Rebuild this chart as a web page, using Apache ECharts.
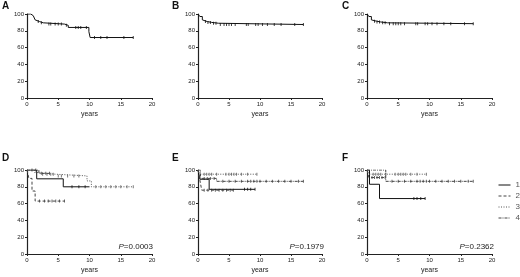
<!DOCTYPE html>
<html>
<head>
<meta charset="utf-8">
<script src="https://cdn.jsdelivr.net/npm/echarts@6/dist/echarts.min.js"></script>
<style>
  html, body { margin: 0; padding: 0; background: #fff; }
  #chart { width: 520px; height: 277px; }
</style>
</head>
<body>
<div id="chart"></div>
<script>
// ---- data (years, % survival) ----
const xTicks = [0, 5, 10, 15, 20];
const yTicks = [0, 20, 40, 60, 80, 100];

// panel A
const aTime = [0, 0.6, 1.0, 1.3, 1.6, 2.0, 2.6, 6.0, 6.6, 9.9, 10.1];
const aSurv = [100, 98, 96, 93, 91, 89.5, 88, 86.5, 84, 79, 72];
const aEnd = 17;
const aCens = [1.8, 2.3, 3.5, 3.8, 4.5, 5.0, 5.5, 6.3, 7.8, 8.2, 8.6, 9.5, 10.8, 11.8, 12.8, 15.5, 17];

// panel B
const bTime = [0, 0.3, 0.7, 1.0, 1.5, 2.2, 3.3];
const bSurv = [100, 97, 93, 91, 90, 89, 87.5];
const bEnd = 17;
const bCens = [1.2, 1.6, 2.0, 2.5, 2.9, 3.6, 4.2, 4.6, 5.0, 5.4, 6.0, 7.8, 8.1, 9.3, 9.7, 10.4, 11.2, 12.3, 13.4, 15.6, 17];

// panel C
const cTime = [0, 0.3, 0.7, 1.0, 1.5, 2.2, 3.3];
const cSurv = [100, 97, 93, 91.5, 90.5, 89.5, 88.5];
const cEnd = 17;
const cCens = [1.2, 1.6, 2.0, 2.5, 2.9, 3.6, 4.2, 4.6, 5.0, 5.4, 6.0, 7.8, 8.1, 9.3, 9.7, 10.4, 11.2, 12.3, 13.4, 15.6, 17];

// panel D, groups 1-4
const d1Time = [0, 1.55, 5.8], d1Surv = [100, 89.5, 80], d1End = 10, d1Cens = [7.2, 8.3, 9.3];
const d2Time = [0, 0.3, 0.8, 1.3], d2Surv = [100, 90, 75, 63], d2End = 6, d2Cens = [2.0, 2.8, 3.4, 4.0, 4.6, 5.2, 6.0];
const d3Time = [0, 1.2, 1.6, 4.5, 9.6, 10.3], d3Surv = [100, 97, 95, 93, 87, 80], d3End = 17;
const d3Cens = [2.5, 3.2, 3.8, 4.2, 5.0, 5.5, 6.5, 7.5, 8.3, 11.0, 11.8, 12.6, 13.4, 14.2, 15.0, 16.0, 17];
const d4Time = [0, 1.9], d4Surv = [100, 96], d4End = 3.6, d4Cens = [0.8, 1.4, 2.3, 3.0, 3.6];

// panel E
const e1Time = [0, 0.3, 1.8], e1Surv = [100, 89, 77], e1End = 9.2, e1Cens = [7.5, 8.0, 8.5, 9.2];
const e2Time = [0, 0.3, 0.6], e2Surv = [100, 88, 76], e2End = 5.7, e2Cens = [1.0, 1.6, 2.2, 2.8, 3.4, 4.0, 4.6, 5.2, 5.7];
const e3Time = [0, 0.3], e3Surv = [100, 95], e3End = 9.5, e3Cens = [1.0, 1.4, 1.8, 2.2, 3.0, 4.5, 5.0, 5.4, 5.8, 6.2, 7.0, 8.0, 9.5];
const e4Time = [0, 0.4, 3.0], e4Surv = [100, 90, 86.5], e4End = 17;
const e4Cens = [1.0, 1.5, 2.0, 2.6, 4.0, 5.0, 6.0, 7.0, 8.0, 8.5, 9.0, 9.5, 10.0, 11.0, 12.0, 13.0, 14.0, 15.0, 16.2, 17];

// panel F
const f1Time = [0, 0.4, 2.0], f1Surv = [100, 83, 66], f1End = 9.3, f1Cens = [7.5, 8.0, 8.6, 9.3];
const f2Time = [0, 0.3], f2Surv = [100, 91], f2End = 2.9, f2Cens = [0.8, 1.2, 1.6, 2.0, 2.4, 2.9];
const f3Time = [0, 0.3], f3Surv = [100, 95], f3End = 9.5, f3Cens = [1.0, 1.4, 1.8, 2.2, 3.0, 4.5, 5.0, 5.4, 5.8, 6.2, 7.0, 8.0, 9.5];
const f4Time = [0, 3.0], f4Surv = [100, 86.5], f4End = 17;
const f4Cens = [4.0, 5.0, 6.0, 7.0, 8.0, 8.5, 9.0, 9.5, 10.0, 11.0, 12.0, 13.0, 14.0, 15.0, 16.2, 17];

const pValues = ['0.0003', '0.1979', '0.2362'];

// ---- helpers ----
function kmLine(time, surv, end) {
  const pts = time.map((t, i) => [t, surv[i]]);
  pts.push([end, surv[surv.length - 1]]);
  return pts;
}
function censPts(time, surv, cens) {
  return cens.map(c => {
    let v = surv[0];
    for (let i = 0; i < time.length; i++) if (time[i] <= c) v = surv[i];
    return [c, v];
  });
}

const grids = [
  { left: 27, top: 14, width: 125, height: 84 },
  { left: 198, top: 14, width: 124, height: 84 },
  { left: 367, top: 14, width: 125, height: 84 },
  { left: 27, top: 170, width: 125, height: 84 },
  { left: 198, top: 170, width: 124, height: 84 },
  { left: 367, top: 170, width: 125, height: 84 }
];

const axisCommon = {
  axisLine: { lineStyle: { color: '#222', width: 1.2 } },
  axisTick: { length: 2, lineStyle: { color: '#222' } },
  splitLine: { show: false }
};
const xAxes = grids.map((g, i) => Object.assign({
  gridIndex: i, type: 'value', min: xTicks[0], max: xTicks[xTicks.length - 1], interval: 5,
  name: 'years', nameLocation: 'middle', nameGap: 13,
  nameTextStyle: { fontSize: 7, color: '#222', fontFamily: 'Liberation Sans' },
  axisLabel: { fontSize: 6, margin: 3, color: '#222', fontFamily: 'Liberation Sans' }
}, axisCommon));
const yAxes = grids.map((g, i) => Object.assign({
  gridIndex: i, type: 'value', min: yTicks[0], max: yTicks[yTicks.length - 1], interval: 20,
  axisLabel: { fontSize: 6, margin: 3, color: '#222', fontFamily: 'Liberation Sans' }
}, axisCommon));

const styles = {
  '1': { color: '#111', type: 'solid' },
  '2': { color: '#444', type: [3, 2] },
  '3': { color: '#555', type: [1, 1.5] },
  '4': { color: '#444', type: [3, 1, 1, 1] }
};

const series = [];
function addCurve(idx, name, time, surv, end, cens) {
  const st = styles[name] || styles['1'];
  series.push({
    name: name, type: 'line', step: 'end', xAxisIndex: idx, yAxisIndex: idx,
    symbol: 'none', showSymbol: false, silent: true, animation: false,
    lineStyle: { color: st.color, width: 1, type: st.type },
    itemStyle: { color: st.color },
    data: kmLine(time, surv, end)
  });
  series.push({
    name: name + 'c', type: 'scatter', xAxisIndex: idx, yAxisIndex: idx,
    symbol: 'rect', symbolSize: [1, 3], silent: true, animation: false,
    itemStyle: { color: st.color },
    data: censPts(time, surv, cens)
  });
}
addCurve(0, 'A', aTime, aSurv, aEnd, aCens);
addCurve(1, 'B', bTime, bSurv, bEnd, bCens);
addCurve(2, 'C', cTime, cSurv, cEnd, cCens);
addCurve(3, '1', d1Time, d1Surv, d1End, d1Cens);
addCurve(3, '2', d2Time, d2Surv, d2End, d2Cens);
addCurve(3, '3', d3Time, d3Surv, d3End, d3Cens);
addCurve(3, '4', d4Time, d4Surv, d4End, d4Cens);
addCurve(4, '1', e1Time, e1Surv, e1End, e1Cens);
addCurve(4, '2', e2Time, e2Surv, e2End, e2Cens);
addCurve(4, '3', e3Time, e3Surv, e3End, e3Cens);
addCurve(4, '4', e4Time, e4Surv, e4End, e4Cens);
addCurve(5, '1', f1Time, f1Surv, f1End, f1Cens);
addCurve(5, '2', f2Time, f2Surv, f2End, f2Cens);
addCurve(5, '3', f3Time, f3Surv, f3End, f3Cens);
addCurve(5, '4', f4Time, f4Surv, f4End, f4Cens);

const letterStyle = { fontSize: 10, fontWeight: 'bold', color: '#111', fontFamily: 'Liberation Sans' };
const titles = [
  ['A', 2, 1], ['B', 172, 1], ['C', 342, 1],
  ['D', 2, 153], ['E', 172, 153], ['F', 342, 153]
].map(t => ({ text: t[0], left: t[1], top: t[2], padding: 0, textStyle: letterStyle }));
const pRight = [367, 196, 26];
pValues.forEach((p, i) => {
  titles.push({
    text: '{i|P}=' + p, right: pRight[i], top: 243, padding: 0,
    textStyle: {
      fontSize: 8, color: '#222', fontWeight: 'normal', fontFamily: 'Liberation Sans',
      rich: { i: { fontSize: 8, fontStyle: 'italic', color: '#222', fontFamily: 'Liberation Sans' } }
    }
  });
});

const chart = echarts.init(document.getElementById('chart'));
chart.setOption({
  animation: false,
  title: titles,
  legend: {
    data: ['1', '2', '3', '4'], orient: 'vertical', left: 498, top: 181,
    itemWidth: 12, itemHeight: 6, itemGap: 3, padding: 0,
    selectedMode: false,
    itemStyle: { opacity: 0 },
    lineStyle: { width: 1 },
    textStyle: { fontSize: 8, color: '#555', fontFamily: 'Liberation Sans', padding: [0, 0, 0, 0] }
  },
  grid: grids,
  xAxis: xAxes,
  yAxis: yAxes,
  series: series
});
window.addEventListener('resize', function () { chart.resize(); });
</script>
</body>
</html>
